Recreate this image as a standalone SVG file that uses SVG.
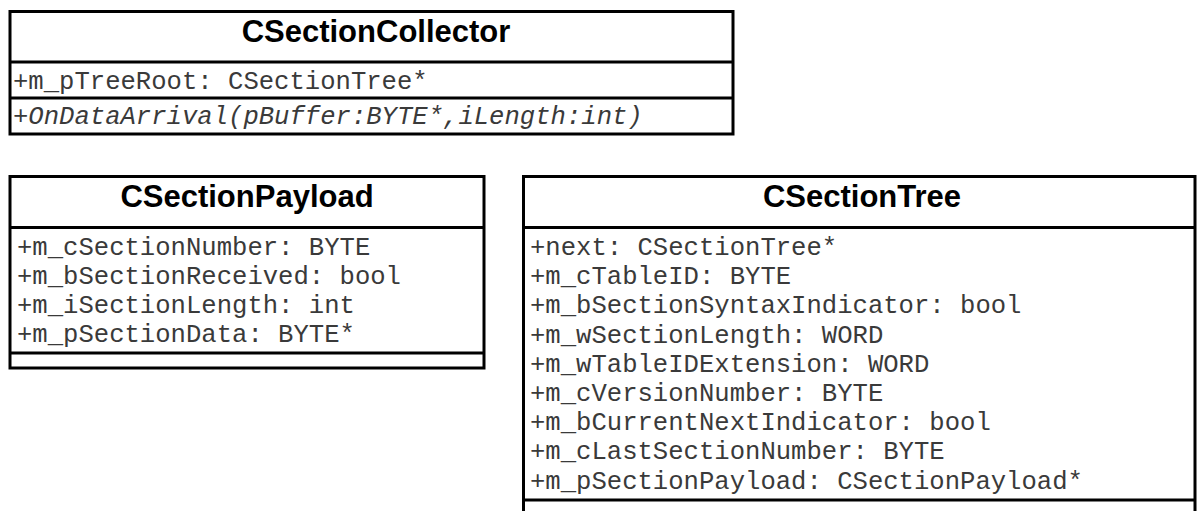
<svg xmlns="http://www.w3.org/2000/svg" width="1197" height="511" viewBox="0 0 1197 511">
<style>
.box{fill:#fff;stroke:#000;stroke-width:3}
.div{stroke:#000;stroke-width:3}
.title{font-family:"Liberation Sans",Arial,sans-serif;font-weight:bold;font-size:31px;fill:#000;text-anchor:middle}
.attr{font-family:"Liberation Mono","Courier New",monospace;font-size:25.6px;fill:#3a3a3a}
.op{font-style:italic}
</style>
<rect width="1197" height="511" fill="#fff"/>
<g id="CSectionCollector">
<rect class="box" x="10" y="11.5" width="723" height="122.5"/>
<line class="div" x1="10" y1="62" x2="733" y2="62"/>
<line class="div" x1="10" y1="98" x2="733" y2="98"/>
<text class="title" x="376" y="42">CSectionCollector</text>
<text class="attr" x="13" y="89">+m_pTreeRoot: CSectionTree*</text>
<text class="attr op" x="13" y="124">+OnDataArrival(pBuffer:BYTE*,iLength:int)</text>
</g>
<g id="CSectionPayload">
<rect class="box" x="10" y="176.5" width="474" height="191.5"/>
<line class="div" x1="10" y1="227.5" x2="484" y2="227.5"/>
<line class="div" x1="10" y1="353" x2="484" y2="353"/>
<text class="title" x="247" y="207">CSectionPayload</text>
<text class="attr" x="17" y="255">+m_cSectionNumber: BYTE</text>
<text class="attr" x="17" y="284">+m_bSectionReceived: bool</text>
<text class="attr" x="17" y="313">+m_iSectionLength: int</text>
<text class="attr" x="17" y="342">+m_pSectionData: BYTE*</text>
</g>
<g id="CSectionTree">
<rect class="box" x="523.5" y="176.5" width="671.5" height="360"/>
<line class="div" x1="523.5" y1="227.5" x2="1195" y2="227.5"/>
<line class="div" x1="523.5" y1="500" x2="1195" y2="500"/>
<text class="title" x="862" y="207">CSectionTree</text>
<text class="attr" x="530" y="255">+next: CSectionTree*</text>
<text class="attr" x="530" y="284.2">+m_cTableID: BYTE</text>
<text class="attr" x="530" y="313.4">+m_bSectionSyntaxIndicator: bool</text>
<text class="attr" x="530" y="342.6">+m_wSectionLength: WORD</text>
<text class="attr" x="530" y="371.8">+m_wTableIDExtension: WORD</text>
<text class="attr" x="530" y="401">+m_cVersionNumber: BYTE</text>
<text class="attr" x="530" y="430.2">+m_bCurrentNextIndicator: bool</text>
<text class="attr" x="530" y="459.4">+m_cLastSectionNumber: BYTE</text>
<text class="attr" x="530" y="488.6">+m_pSectionPayload: CSectionPayload*</text>
</g>
<g id="connectors"></g>
</svg>
